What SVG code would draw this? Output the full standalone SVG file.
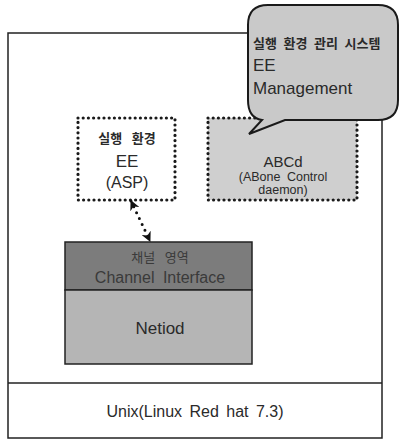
<svg xmlns="http://www.w3.org/2000/svg" width="400" height="440" viewBox="0 0 400 440">
<defs>
<style>
text{font-family:"Liberation Sans","Noto Sans CJK KR",sans-serif;fill:#2a2a2a;text-anchor:middle;dominant-baseline:central}
.ko{font-size:13px;font-weight:bold;word-spacing:3px}
.en{font-size:16px}
.sm{font-size:12.5px}
.dot{stroke:#1a1a1a;stroke-width:3.2;stroke-linecap:round;stroke-dasharray:0 5.2}
</style>
<marker id="ah" viewBox="0 0 10 10" refX="9" refY="5" markerWidth="10" markerHeight="10" orient="auto-start-reverse" markerUnits="userSpaceOnUse">
<path d="M0,0 L10,5 L0,10 L3,5 Z" fill="#111"/>
</marker>
</defs>
<rect width="400" height="440" fill="#fff"/>
<g id="outer">
<rect x="8" y="33" width="374" height="405" fill="#fff" stroke="#222" stroke-width="1.5"/>
<line x1="8" y1="383" x2="382" y2="383" stroke="#222" stroke-width="1.5"/>
</g>
<g id="unix">
<text x="195" y="411" style="font-size:16px;word-spacing:3px">Unix(Linux Red hat 7.3)</text>
</g>
<g id="ee">
<rect x="78" y="118" width="97" height="82" fill="#fff" class="dot"/>
<text x="127" y="138" class="ko" style="word-spacing:6px">실행 환경</text>
<text x="127" y="161" class="en" style="font-size:17px">EE</text>
<text x="127" y="182" class="en">(ASP)</text>
</g>
<g id="abcd">
<rect x="208" y="118" width="149" height="82" fill="#cfcfcf" class="dot"/>
<text x="283" y="161" style="font-size:15px">ABCd</text>
<text x="283" y="177" class="sm" style="word-spacing:3px">(ABone Control</text>
<text x="283" y="190" class="sm">daemon)</text>
</g>
<g id="bubble">
<path d="M268,5 H378 Q398,5 398,25 V100 Q398,120 378,120 H285 L249,134 L262,120 Q248,118 248,100 V25 Q248,5 268,5 Z" fill="#c9c9c9" stroke="#1a1a1a" stroke-width="2"/>
<text x="253" y="43" class="ko" style="text-anchor:start">실행 환경 관리 시스템</text>
<text x="253" y="65" class="en" style="text-anchor:start;font-size:17px">EE</text>
<text x="253" y="88" class="en" style="text-anchor:start;font-size:17px">Management</text>
</g>
<g id="channel">
<rect x="65" y="242" width="187" height="48" fill="#7c7c7c" stroke="#222" stroke-width="1.5"/>
<text x="160" y="257" style="font-size:13px;fill:#3a3a3a;word-spacing:6px">채널 영역</text>
<text x="160" y="277" style="font-size:16px;fill:#3a3a3a;word-spacing:4px">Channel Interface</text>
</g>
<g id="netiod">
<rect x="65" y="290" width="187" height="74" fill="#b5b5b5" stroke="#222" stroke-width="1.5"/>
<text x="160" y="328" class="en" style="font-size:17px">Netiod</text>
</g>
<g id="connectors">
<line x1="131" y1="201" x2="150" y2="241" stroke="#111" stroke-width="3" stroke-linecap="round" stroke-dasharray="0 6.5" marker-start="url(#ah)" marker-end="url(#ah)"/>
</g>
</svg>
